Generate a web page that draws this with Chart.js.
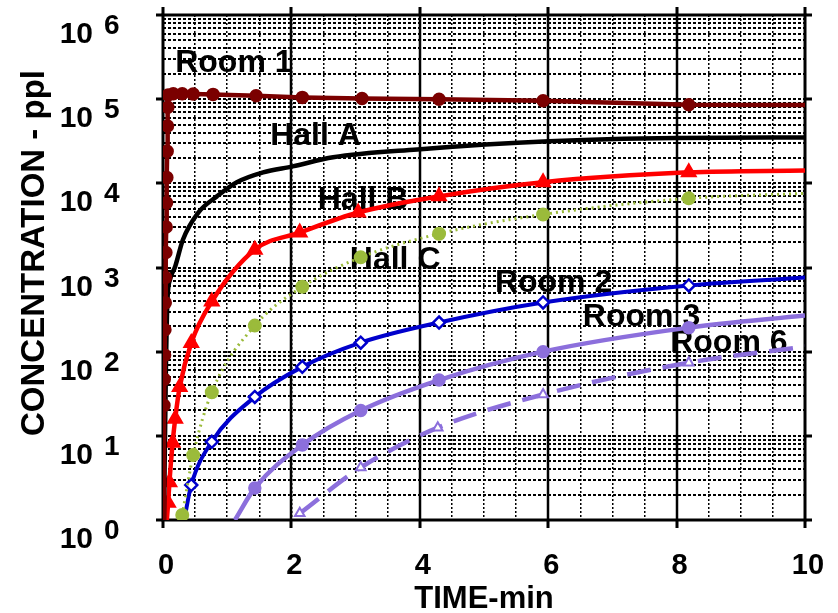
<!DOCTYPE html>
<html>
<head>
<meta charset="utf-8">
<script src="https://cdn.jsdelivr.net/npm/chart.js@4.4.1/dist/chart.umd.min.js"></script>
<style>
  html, body { margin: 0; padding: 0; background: #fff; }
</style>
</head>
<body>
<canvas id="myChart" width="838" height="613"></canvas>
<script>
// concentration (ppl) vs time (min)
let room1Time = [0.01, 0.015, 0.02, 0.025, 0.03, 0.035, 0.04, 0.045, 0.05, 0.055, 0.06, 0.065, 0.07, 0.075, 0.08, 0.16, 0.3, 0.47, 0.78, 1.45, 2.17, 3.1, 4.3, 5.92, 8.19, 10];
let room1Conc = [1, 23, 47, 91, 182, 380, 760, 1510, 3020, 5890, 11700, 24000, 47900, 80000, 112000, 116000, 116000, 115000, 114000, 110000, 105000, 102000, 100000, 95500, 86000, 85000];

let hallATime = [0.015, 0.03, 0.045, 0.07, 0.11, 0.19, 0.31, 0.55, 0.84, 1.15, 1.56, 2.02, 2.65, 3.96, 6.01, 8.0, 10];
let hallAConc = [1, 8, 60, 420, 720, 1030, 2140, 4500, 7000, 10300, 13500, 15900, 20400, 25300, 31600, 34500, 35000];

let hallBTime = [0.06, 0.08, 0.1, 0.15, 0.19, 0.26, 0.44, 0.76, 1.43, 2.13, 3.04, 4.3, 5.92, 8.19, 10];
let hallBConc = [1, 1.6, 2.8, 8.3, 16, 38, 127, 395, 1630, 2600, 4500, 7000, 10300, 13500, 14200];

let hallCTime = [0.3, 0.47, 0.76, 1.43, 2.17, 3.08, 4.3, 5.92, 8.19, 10];
let hallCConc = [1.15, 5.9, 33, 204, 590, 1320, 2520, 4270, 6630, 7600];

let room2Time = [0.33, 0.44, 0.76, 1.43, 2.17, 3.08, 4.3, 5.92, 8.19, 10];
let room2Conc = [1, 2.6, 8.5, 29, 66, 128, 222, 384, 612, 760];

let room3Time = [1.12, 1.43, 2.17, 3.08, 4.3, 5.92, 8.19, 10];
let room3Conc = [1, 2.4, 7.8, 20, 46, 100, 193, 269];

let room6Time = [2.13, 3.08, 4.28, 5.92, 8.19, 10];
let room6Conc = [1.2, 4.2, 12.5, 31, 74, 115];

let timeTicks = [0, 2, 4, 6, 8, 10];
let decades = [0, 1, 2, 3, 4, 5, 6];

// curve names written on the plot, anchored in data units (time, ppl)
let curveNames = ['Room 1', 'Hall A', 'Hall B', 'Hall C', 'Room 2', 'Room 3', 'Room 6'];
let nameTime = [0.19, 1.67, 2.41, 2.91, 5.17, 6.54, 7.9];
let nameConc = [209000, 28200, 4900, 955, 513, 200, 98];

const FONT = '"Liberation Sans", Arial, Helvetica, sans-serif';

function pts(t, c) {
  return t.map((v, i) => ({x: v, y: c[i]}));
}
// marker size per point, no marker on the first (optional) and last point
function radii(n, r, skipFirst) {
  return Array.from({length: n}, (_, i) => (i === n - 1 || (skipFirst && i === 0)) ? 0 : r);
}

let dataset2 = [
  {
    label: 'Room 1',
    data: pts(room1Time, room1Conc),
    borderColor: '#7B0000',
    backgroundColor: '#7B0000',
    pointBackgroundColor: '#7B0000',
    borderWidth: 4.5,
    pointRadius: radii(room1Time.length, 4.5, true),
    tension: 0
  },
  {
    label: 'Hall A',
    data: pts(hallATime, hallAConc),
    borderColor: '#000000',
    borderWidth: 4.5,
    pointRadius: 0,
    cubicInterpolationMode: 'monotone'
  },
  {
    label: 'Hall B',
    data: pts(hallBTime, hallBConc),
    borderColor: '#FF0000',
    backgroundColor: '#FF0000',
    pointBackgroundColor: '#FF0000',
    pointStyle: 'triangle',
    borderWidth: 4.5,
    pointRadius: radii(hallBTime.length, 5.5, true),
    cubicInterpolationMode: 'monotone'
  },
  {
    label: 'Hall C',
    data: pts(hallCTime, hallCConc),
    borderColor: '#9BBB3B',
    backgroundColor: '#9BBB3B',
    pointBackgroundColor: '#9BBB3B',
    borderWidth: 3,
    borderDash: [2, 4],
    pointRadius: radii(hallCTime.length, 5.5, false),
    cubicInterpolationMode: 'monotone'
  },
  {
    label: 'Room 2',
    data: pts(room2Time, room2Conc),
    borderColor: '#0000CC',
    pointBackgroundColor: '#FFFFFF',
    pointBorderColor: '#0000CC',
    pointBorderWidth: 2.5,
    pointStyle: 'rectRot',
    borderWidth: 4,
    pointRadius: radii(room2Time.length, 6, true),
    cubicInterpolationMode: 'monotone'
  },
  {
    label: 'Room 3',
    data: pts(room3Time, room3Conc),
    borderColor: '#8C6FDC',
    pointBackgroundColor: '#8C6FDC',
    borderWidth: 4.5,
    pointRadius: radii(room3Time.length, 4.5, true),
    cubicInterpolationMode: 'monotone'
  },
  {
    label: 'Room 6',
    data: pts(room6Time, room6Conc),
    borderColor: '#8C6FDC',
    pointBackgroundColor: '#FFFFFF',
    pointBorderColor: '#8C6FDC',
    pointBorderWidth: 2,
    pointStyle: 'triangle',
    borderWidth: 4.5,
    borderDash: [24, 12],
    pointRadius: radii(room6Time.length, 5.5, false),
    cubicInterpolationMode: 'monotone'
  }
];

const overlay = {
  id: 'overlay',
  beforeDraw(chart) {
    // curve names go under the grid, like in the original
    const {ctx, scales: {x, y}} = chart;
    ctx.save();
    ctx.fillStyle = '#000';
    ctx.font = 'bold 32px ' + FONT;
    ctx.textAlign = 'left';
    ctx.textBaseline = 'alphabetic';
    curveNames.forEach((n, i) => {
      ctx.fillText(n, x.getPixelForValue(nameTime[i]), y.getPixelForValue(nameConc[i]));
    });
    ctx.restore();
  },
  beforeDatasetsDraw(chart) {
    const {ctx, chartArea: a, scales: {x, y}} = chart;
    ctx.save();
    ctx.strokeStyle = '#000';
    ctx.lineWidth = 2.5;
    ctx.beginPath();
    [2, 4, 6, 8].forEach(t => {
      const px = Math.round(x.getPixelForValue(t));
      ctx.moveTo(px, a.top);
      ctx.lineTo(px, a.bottom);
    });
    ctx.stroke();
    ctx.lineWidth = 3;
    ctx.strokeRect(a.left, a.top, a.right - a.left, a.bottom - a.top);
    ctx.beginPath();
    timeTicks.forEach(t => {
      const px = Math.round(x.getPixelForValue(t));
      ctx.moveTo(px, a.top - 8);
      ctx.lineTo(px, a.top);
      ctx.moveTo(px, a.bottom);
      ctx.lineTo(px, a.bottom + 8);
    });
    decades.forEach(d => {
      const py = Math.round(y.getPixelForValue(Math.pow(10, d)));
      ctx.moveTo(a.left - 7, py);
      ctx.lineTo(a.left, py);
      ctx.moveTo(a.right, py);
      ctx.lineTo(a.right + 7, py);
    });
    ctx.stroke();
    ctx.restore();
  },
  afterDraw(chart) {
    const {ctx, chartArea: a, scales: {x, y}} = chart;
    ctx.save();
    ctx.fillStyle = '#000';
    ctx.textBaseline = 'alphabetic';
    // y tick labels: 10 with raised exponent
    decades.forEach(d => {
      const py = y.getPixelForValue(Math.pow(10, d));
      ctx.font = 'bold 30px ' + FONT;
      ctx.textAlign = 'right';
      ctx.fillText('10', 93, py + 28);
      ctx.font = 'bold 28px ' + FONT;
      ctx.textAlign = 'left';
      ctx.fillText(String(d), 104, py + 19);
    });
    // x tick labels
    ctx.font = 'bold 29px ' + FONT;
    ctx.textAlign = 'center';
    timeTicks.forEach(t => {
      ctx.fillText(String(t), x.getPixelForValue(t) + 3, 574);
    });
    // axis titles
    ctx.font = 'bold 31px ' + FONT;
    ctx.fillText('TIME-min', (a.left + a.right) / 2, 608);
    ctx.font = 'bold 33px ' + FONT;
    ctx.translate(44, 253);
    ctx.rotate(-Math.PI / 2);
    ctx.fillText('CONCENTRATION - ppl', 0, 0);
    ctx.restore();
  }
};

let ctx = document.getElementById('myChart').getContext('2d');

let myChart = new Chart(ctx, {
  type: 'line',
  data: {datasets: dataset2},
  plugins: [overlay],
  options: {
    responsive: false,
    animation: false,
    devicePixelRatio: 1,
    layout: {padding: {left: 163, right: 33, top: 15, bottom: 93}},
    plugins: {legend: {display: false}, tooltip: {enabled: false}},
    scales: {
      x: {
        type: 'linear',
        min: 0,
        max: 10,
        ticks: {display: false, stepSize: 0.5},
        grid: {color: '#000', lineWidth: 1.5, drawTicks: false},
        border: {display: false, dash: [2, 2]},
        afterFit: s => { s.height = 0; }
      },
      y: {
        type: 'logarithmic',
        min: 1,
        max: 1000000,
        ticks: {display: false},
        grid: {color: '#000', lineWidth: 2, drawTicks: false},
        border: {display: false, dash: [3, 2]},
        afterBuildTicks: s => {
          const t = [];
          decades.forEach(d => {
            for (let m = 1; m < 10; m++) {
              if (d < 6 || m === 1) t.push({value: m * Math.pow(10, d)});
            }
          });
          s.ticks = t;
        },
        afterFit: s => { s.width = 0; }
      }
    }
  }
});
</script>
</body>
</html>
